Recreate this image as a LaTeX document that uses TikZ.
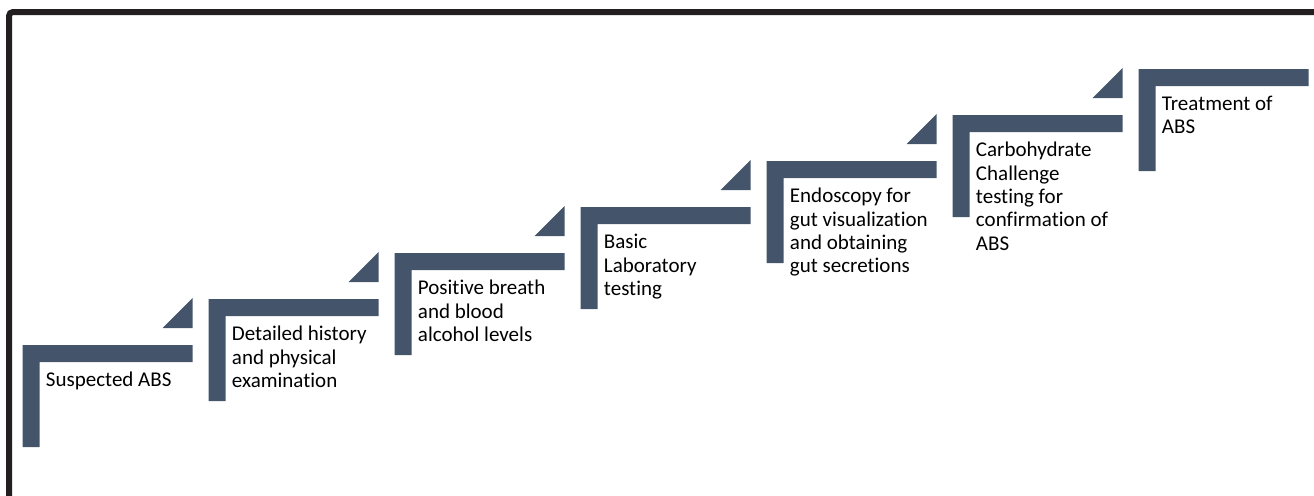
\documentclass[tikz,border=0pt]{standalone}
\usepackage{fontspec}
\setmainfont[Ligatures=NoCommon]{Carlito}
\definecolor{stepblue}{HTML}{44546A}
\definecolor{framegray}{HTML}{231F20}
\begin{document}
\begin{tikzpicture}[x=0.75pt,y=-0.75pt, every node/.style={font=\fontsize{15.75}{17.5}\selectfont}]
		\useasboundingbox (0,0) rectangle (1314,496);
		% frame
		\draw[framegray,line width=4.5pt,rounded corners=3pt] (9,496) -- (9,12) -- (1314,12);
		% Steps
		\foreach \i/\txt in {0/{Suspected ABS},
			1/{Detailed history\\and physical\\examination},
			2/{Positive breath\\and blood\\alcohol levels},
			3/{Basic\\Laboratory\\testing},
			4/{Endoscopy for\\gut visualization\\and obtaining\\gut secretions},
			5/{Carbohydrate\\Challenge\\testing for\\confirmation of\\ABS},
			6/{Treatment of\\ABS}}{
			\fill[stepblue] ({22.7+186*\i},{345-46*\i}) -- ++(170,0) -- ++(0,17) -- ++(-153,0) -- ++(0,85) -- ++(-17,0) -- cycle;
			\node[anchor=north west,inner sep=0pt,align=left] (step\i) at ({45.7+186*\i},{372-46*\i}) {\txt};
		}
		% Arrow heads
		\foreach \i in {0,...,5}
		\fill[stepblue] ({192.7+186*\i},{328-46*\i}) -- ++(0,-30) -- ++(-30,30) -- cycle;
\end{tikzpicture}
\end{document}
